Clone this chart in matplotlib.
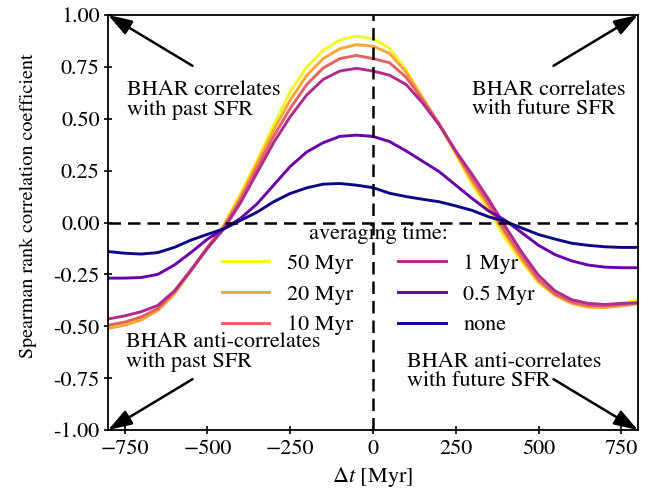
import numpy as np
import matplotlib
matplotlib.use("Agg")
import matplotlib.pyplot as plt

# fonts: times-like serif everywhere (STIX ships with matplotlib)
plt.rcParams['font.family'] = ['STIXGeneral', 'Liberation Serif', 'DejaVu Serif']
plt.rcParams['mathtext.fontset'] = 'stix'
plt.rcParams['font.size'] = 16

# time offsets [Myr]
dt = np.arange(-800, 801, 50)

# Spearman coefficient, one list per averaging time
rho_50 = [-0.50, -0.485, -0.46, -0.42, -0.34, -0.23, -0.12, -0.01, 0.14, 0.30, 0.47,
          0.63, 0.75, 0.83, 0.88, 0.898, 0.885, 0.84, 0.735, 0.60, 0.47, 0.33, 0.18,
          0.06, -0.08, -0.19, -0.29, -0.35, -0.385, -0.40, -0.40, -0.39, -0.372]
rho_20 = [-0.51, -0.495, -0.47, -0.425, -0.345, -0.235, -0.12, -0.015, 0.125, 0.285, 0.445,
          0.59, 0.71, 0.79, 0.838, 0.857, 0.85, 0.815, 0.725, 0.60, 0.475, 0.335, 0.195,
          0.075, -0.06, -0.18, -0.285, -0.35, -0.39, -0.408, -0.41, -0.402, -0.392]
rho_10 = [-0.495, -0.48, -0.455, -0.415, -0.335, -0.23, -0.12, -0.02, 0.11, 0.265, 0.415,
          0.55, 0.665, 0.745, 0.79, 0.805, 0.79, 0.77, 0.70, 0.59, 0.475, 0.34, 0.21,
          0.09, -0.045, -0.165, -0.275, -0.345, -0.383, -0.40, -0.402, -0.396, -0.388]
rho_1 = [-0.465, -0.45, -0.43, -0.40, -0.33, -0.23, -0.125, -0.03, 0.095, 0.24, 0.385,
         0.51, 0.615, 0.69, 0.73, 0.743, 0.73, 0.71, 0.665, 0.575, 0.47, 0.345, 0.23,
         0.11, -0.02, -0.145, -0.255, -0.33, -0.372, -0.39, -0.395, -0.39, -0.387]
rho_05 = [-0.268, -0.268, -0.265, -0.25, -0.205, -0.145, -0.08, -0.03, 0.02, 0.09, 0.18,
          0.27, 0.34, 0.385, 0.415, 0.421, 0.415, 0.39, 0.345, 0.295, 0.245, 0.18, 0.115,
          0.055, 0.01, -0.05, -0.11, -0.155, -0.185, -0.205, -0.215, -0.218, -0.218]
rho_none = [-0.14, -0.148, -0.152, -0.145, -0.12, -0.085, -0.057, -0.03, 0.01, 0.05, 0.10,
            0.14, 0.167, 0.185, 0.188, 0.18, 0.168, 0.141, 0.125, 0.112, 0.10, 0.08, 0.058,
            0.027, 0.005, -0.027, -0.058, -0.08, -0.1, -0.11, -0.117, -0.12, -0.12]

labels = ['50 Myr', '20 Myr', '10 Myr', '1 Myr', '0.5 Myr', 'none']
curves = [rho_50, rho_20, rho_10, rho_1, rho_05, rho_none]

fig = plt.figure(figsize=(6.59, 4.92), dpi=100)
ax = fig.add_axes([0.164, 0.126, 0.804, 0.8435])

colors = plt.cm.plasma(np.linspace(1.0, 0.0, len(curves)))
for rho, lab, c in zip(curves, labels, colors):
    ax.plot(dt, rho, color=c, lw=2.1, label=lab)

# zero lines
ax.axhline(0, color='k', lw=1.8, dashes=(5, 2.8), zorder=5)
ax.axvline(0, color='k', lw=1.8, dashes=(5, 2.8), zorder=5)

ax.set_xlim(-800, 800)
ax.set_ylim(-1, 1)
ax.set_xticks([-750, -500, -250, 0, 250, 500, 750])
ax.set_yticks(np.arange(-1, 1.01, 0.25))
ax.yaxis.set_major_formatter(matplotlib.ticker.FormatStrFormatter('%.2f'))
ax.tick_params(direction='inout', length=6, width=1.2)
ax.tick_params(axis='x', pad=4)
ax.tick_params(axis='y', pad=3)
for sp in ax.spines.values():
    sp.set_linewidth(1.3)

ax.set_xlabel(r'$\Delta t$ [Myr]', labelpad=4)
ax.set_ylabel('Spearman rank correlation coefficient', fontsize=14.5)
ax.yaxis.set_label_coords(-0.134, 0.54)

# corner arrows + notes
arrow = dict(arrowstyle='-|>,head_length=0.6,head_width=0.2', color='k', lw=1.8,
             mutation_scale=24, shrinkA=0, shrinkB=0)
for sx, sy in [(-1, 1), (1, 1), (-1, -1), (1, -1)]:
    ax.annotate('', xy=(800 * sx, sy), xytext=(545 * sx, 0.755 * sy),
                arrowprops=arrow, annotation_clip=False)

ax.text(-742, 0.59, 'BHAR correlates\nwith past SFR', ha='left', va='center', linespacing=0.95)
ax.text(298, 0.59, 'BHAR correlates\nwith future SFR', ha='left', va='center', linespacing=0.95)
ax.text(-746, -0.625, 'BHAR anti-correlates\nwith past SFR', ha='left', va='center', linespacing=0.95)
ax.text(103, -0.72, 'BHAR anti-correlates\nwith future SFR', ha='left', va='center', linespacing=0.95)

ax.legend(title='averaging time:', ncol=2, frameon=False, loc='upper center',
          bbox_to_anchor=(0.51, 0.508), handlelength=2.15, columnspacing=2.0,
          handletextpad=0.8, borderpad=0.2, labelspacing=0.45, borderaxespad=0)

fig.savefig('out.png', dpi=100)
